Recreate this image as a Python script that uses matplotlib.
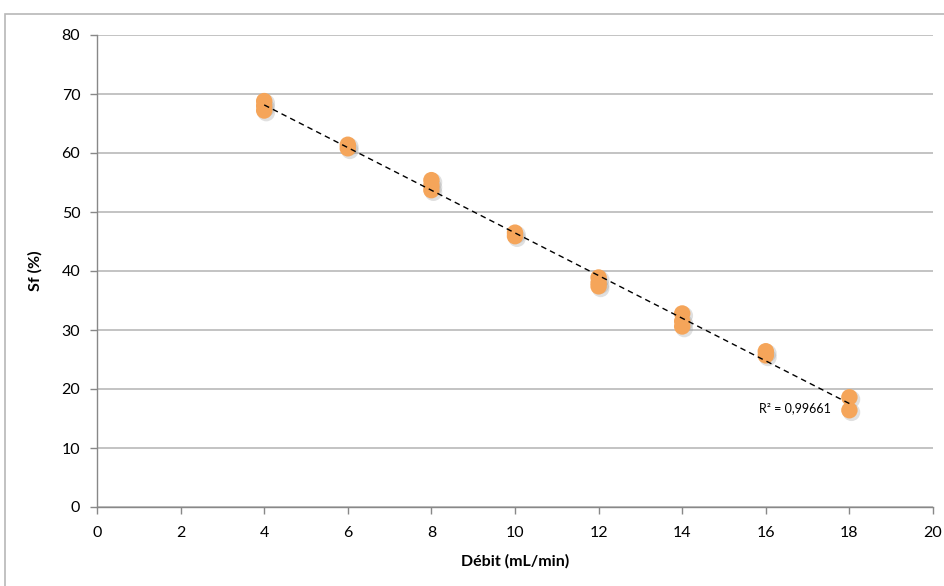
import numpy as np
import matplotlib
matplotlib.use("Agg")
import matplotlib.pyplot as plt
from matplotlib.patches import Rectangle

# --- data ---
debit = [4, 4, 4, 6, 6, 8, 8, 8, 10, 10, 12, 12, 12, 14, 14, 14, 16, 16, 18, 18]
sf = [68.8, 68.0, 67.2, 61.4, 60.8, 55.4, 54.5, 53.7, 46.5, 45.9,
      38.9, 38.0, 37.4, 32.8, 31.5, 30.6, 26.4, 25.7, 18.6, 16.4]
r2_label = "R² = 0,99661"

plt.rcParams['font.family'] = ['Lato', 'DejaVu Sans']

fig = plt.figure(figsize=(9.44, 5.86), dpi=100)
ax = fig.add_axes([97 / 944, 1 - 507 / 586, (933 - 97) / 944, (507 - 35) / 586])

# outer chart border
fig.patches.append(Rectangle((5 / 944, -0.1), 1.2, 1 - 14 / 586 + 0.1,
                             transform=fig.transFigure, fill=False,
                             edgecolor='#b8b8b8', linewidth=1.2))

# gridlines
ax.set_axisbelow(True)
ax.yaxis.grid(True, color='#b3b3b3', linewidth=1.1)

# markers with a soft shadow
ax.scatter(np.array(debit) + 0.05, np.array(sf) - 0.35, s=160, color='#9a9a9a',
           alpha=0.3, edgecolors='none', zorder=2)
ax.scatter(debit, sf, s=140, color='#f5a55a', edgecolors='none', zorder=3)

# linear trendline
slope, intercept = np.polyfit(debit, sf, 1)
xs = np.array([min(debit), max(debit)])
ax.plot(xs, slope * xs + intercept, color='black', linestyle=(0, (4, 3)),
        linewidth=1.0, zorder=4)
ax.text(17.55, 16.8, r2_label, fontsize=9, ha='right', va='center', zorder=5)

ax.set_xlim(0, 20)
ax.set_ylim(0, 80)
ax.set_xticks(range(0, 21, 2))
ax.set_yticks(range(0, 81, 10))
ax.tick_params(axis='both', labelsize=11.5, color='#888888', length=5, width=1)
ax.tick_params(axis='x', pad=9)
ax.tick_params(axis='y', pad=7)

for side in ['top', 'right']:
    ax.spines[side].set_visible(False)
for side in ['left', 'bottom']:
    ax.spines[side].set_color('#888888')
    ax.spines[side].set_linewidth(1.0)

ax.set_xlabel("Débit (mL/min)", fontsize=11.5, fontweight='bold', labelpad=10)
ax.set_ylabel("Sf (%)", fontsize=11.5, fontweight='bold', labelpad=14)

fig.savefig("out.png", dpi=100)
